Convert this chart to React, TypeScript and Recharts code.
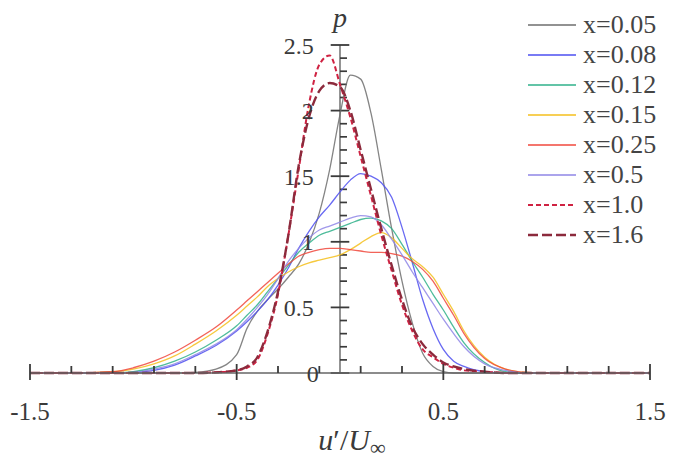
import React from "react";
import { LineChart, Line, XAxis, YAxis, ReferenceLine, Legend } from "recharts";

// u'/U∞ sample grid shared by every profile
const uGrid = [
  -1.5, -1.3, -1.1, -1.0, -0.9, -0.8, -0.7, -0.6,
  -0.5, -0.45, -0.4, -0.35, -0.3, -0.25, -0.2, -0.15, -0.1, -0.05,
  0, 0.05, 0.1, 0.15, 0.2, 0.25, 0.3, 0.35, 0.4, 0.45, 0.5, 0.55, 0.6,
  0.7, 0.8, 0.9, 1.0, 1.2, 1.5,
];

// probability density p, one list per station
const pX005 = [
  0, 0, 0, 0, 0, 0, 0.005, 0.03,
  0.14, 0.34, 0.47, 0.56, 0.64, 0.73, 0.83, 0.99, 1.22, 1.55,
  1.97, 2.27, 2.24, 1.98, 1.55, 1.1, 0.7, 0.38, 0.15, 0.05, 0.01, 0, 0,
  0, 0, 0, 0, 0, 0,
];
const pX008 = [
  0, 0, 0, 0.005, 0.02, 0.06, 0.13, 0.21,
  0.32, 0.39, 0.47, 0.56, 0.67, 0.8, 0.95, 1.08, 1.19, 1.28,
  1.38, 1.47, 1.52, 1.5, 1.45, 1.34, 1.11, 0.84, 0.56, 0.34, 0.18, 0.09, 0.05,
  0.01, 0, 0, 0, 0, 0,
];
const pX012 = [
  0, 0, 0, 0.01, 0.04, 0.09, 0.16, 0.25,
  0.36, 0.44, 0.52, 0.62, 0.72, 0.82, 0.92, 0.99, 1.05, 1.08,
  1.11, 1.14, 1.17, 1.18, 1.16, 1.1, 0.98, 0.85, 0.73, 0.6, 0.48, 0.35, 0.23,
  0.08, 0.01, 0, 0, 0, 0,
];
const pX015 = [
  0, 0, 0.01, 0.03, 0.07, 0.13, 0.22, 0.32,
  0.44, 0.51, 0.58, 0.66, 0.72, 0.77, 0.81, 0.84, 0.86, 0.88,
  0.9, 0.94, 0.99, 1.04, 1.07, 1.03, 0.95, 0.87, 0.81, 0.73, 0.6, 0.47, 0.32,
  0.12, 0.03, 0.005, 0, 0, 0,
];
const pX025 = [
  0, 0, 0.01, 0.04, 0.09, 0.16, 0.25, 0.35,
  0.48, 0.55, 0.62, 0.69, 0.76, 0.83, 0.89, 0.92, 0.94, 0.95,
  0.95, 0.94, 0.93, 0.92, 0.92, 0.91, 0.89, 0.85, 0.79, 0.7, 0.57, 0.44, 0.3,
  0.11, 0.03, 0.005, 0, 0, 0,
];
const pX05 = [
  0, 0, 0, 0.005, 0.03, 0.07, 0.14, 0.22,
  0.33, 0.41, 0.5, 0.6, 0.72, 0.85, 0.95, 1.03, 1.09, 1.12,
  1.15, 1.18, 1.2, 1.19, 1.13, 1.02, 0.9, 0.77, 0.65, 0.53, 0.41, 0.3, 0.2,
  0.07, 0.02, 0, 0, 0, 0,
];
const pX10 = [
  0, 0, 0, 0, 0, 0, 0, 0.005,
  0.02, 0.04, 0.1, 0.3, 0.6, 1.05, 1.55, 2.05, 2.35, 2.42,
  2.2, 1.95, 1.65, 1.35, 1.05, 0.78, 0.52, 0.32, 0.18, 0.12, 0.07, 0.04, 0.02,
  0.01, 0, 0, 0, 0, 0,
];
const pX16 = [
  0, 0, 0, 0, 0, 0, 0, 0.005,
  0.02, 0.05, 0.12, 0.32, 0.62, 1.05, 1.58, 1.95, 2.15, 2.21,
  2.18, 2.0, 1.7, 1.4, 1.1, 0.82, 0.56, 0.35, 0.22, 0.14, 0.08, 0.05, 0.03,
  0.01, 0, 0, 0, 0, 0,
];

const xTicks = [-1.5, -1.3, -1.1, -0.9, -0.7, -0.5, -0.3, -0.1, 0.1, 0.3, 0.5, 0.7, 0.9, 1.1, 1.3, 1.5];
const xLabels = [-1.5, -0.5, 0.5, 1.5];
const yMajor = [0, 0.5, 1, 1.5, 2, 2.5];
const yMinor = [
  0.1, 0.2, 0.3, 0.4, 0.6, 0.7, 0.8, 0.9, 1.1, 1.2, 1.3, 1.4,
  1.6, 1.7, 1.8, 1.9, 2.1, 2.2, 2.3, 2.4,
];

const series = [
  { key: "x005", name: "x=0.05", values: pX005, color: "#6e6e6e", width: 1.3, dash: undefined },
  { key: "x008", name: "x=0.08", values: pX008, color: "#4d4ff0", width: 1.3, dash: undefined },
  { key: "x012", name: "x=0.12", values: pX012, color: "#2fb08a", width: 1.3, dash: undefined },
  { key: "x015", name: "x=0.15", values: pX015, color: "#f5bf1c", width: 1.3, dash: undefined },
  { key: "x025", name: "x=0.25", values: pX025, color: "#f0483c", width: 1.3, dash: undefined },
  { key: "x05", name: "x=0.5", values: pX05, color: "#8f86e6", width: 1.3, dash: undefined },
  { key: "x10", name: "x=1.0", values: pX10, color: "#cf2242", width: 2, dash: "5 3" },
  { key: "x16", name: "x=1.6", values: pX16, color: "#8c2a3c", width: 2.4, dash: "10 4" },
];

const chartData = uGrid.map((u, i) => {
  const row: Record<string, number> = { u };
  series.forEach((s) => {
    row[s.key] = s.values[i];
  });
  return row;
});

const axisColor = "#666666";
const tickColor = "#3a3a3a";
const textColor = "#3a3a3a";
const serif = '"Liberation Serif", "Times New Roman", serif';

const isMajorX = (v: number) => xLabels.some((l) => Math.abs(l - v) < 1e-6);

// tick mark + label for the x axis; y here is the axis line itself (tickSize/tickMargin are 0)
const XTick = (props: any) => {
  const { x, y, payload } = props;
  const v = payload.value;
  const major = isMajorX(v);
  return (
    <g>
      <path
        d={major ? `M${x},${y - 9}L${x},${y + 7}` : `M${x},${y - 7}L${x},${y}`}
        stroke={tickColor}
        strokeWidth={1.8}
        fill="none"
      />
      {major && (
        <text x={x} y={y + 47} textAnchor="middle" fontSize={25} fontFamily={serif} fill={textColor} stroke="none">
          {v}
        </text>
      )}
    </g>
  );
};

const AxisTitle = (props: any) => {
  const { viewBox } = props;
  const cx = viewBox.x + viewBox.width / 2 + 12;
  return (
    <text x={cx} y={viewBox.y + 77} textAnchor="middle" fontSize={30} fontFamily={serif} fill={textColor}>
      <tspan fontStyle="italic">u</tspan>
      <tspan>′/</tspan>
      <tspan fontStyle="italic">U</tspan>
      <tspan fontSize={22} dy={5}>∞</tspan>
    </text>
  );
};

const LegendBox = () => (
  <div style={{ display: "flex", flexDirection: "column" }}>
    {series.map((s) => (
      <div key={s.key} style={{ height: 30, display: "flex", alignItems: "center" }}>
        <svg width={50} height={10} style={{ display: "block" }}>
          <line x1={1} x2={49} y1={5} y2={5} stroke={s.color} strokeWidth={s.width} strokeDasharray={s.dash} />
        </svg>
        <span style={{ marginLeft: 6, fontSize: 26, fontFamily: serif, color: "#444", lineHeight: "30px" }}>
          {s.name}
        </span>
      </div>
    ))}
  </div>
);

export default function App() {
  return (
    <div style={{ position: "absolute", left: 0, top: 0, width: 685, height: 467, background: "#fff" }}>
      <LineChart width={685} height={467} data={chartData} margin={{ top: 45, right: 35, left: 30, bottom: 34 }}>
        <XAxis
          dataKey="u"
          type="number"
          domain={[-1.5, 1.5]}
          ticks={xTicks}
          interval={0}
          tick={<XTick />}
          tickLine={false}
          tickSize={0}
          tickMargin={0}
          axisLine={{ stroke: axisColor, strokeWidth: 1.4 }}
          height={60}
          label={<AxisTitle />}
        />
        <YAxis hide type="number" domain={[0, 2.5]} />
        <ReferenceLine
          x={0}
          stroke={axisColor}
          strokeWidth={1.4}
          label={{ value: "p", position: "top", offset: 18, fontSize: 28, fontStyle: "italic", fontFamily: serif, fill: textColor }}
        />
        {yMinor.map((v) => (
          <ReferenceLine
            key={`m${v}`}
            segment={[{ x: 0, y: v }, { x: 0.034, y: v }]}
            stroke={tickColor}
            strokeWidth={1.7}
          />
        ))}
        {yMajor.map((v) => (
          <ReferenceLine
            key={`M${v}`}
            segment={[{ x: -0.045, y: v }, { x: 0.045, y: v }]}
            stroke={tickColor}
            strokeWidth={1.8}
            label={{ value: String(v), position: "left", offset: v === 0 ? 12 : 17, fontSize: 24, fontFamily: serif, fill: textColor }}
          />
        ))}
        {series.map((s) => (
          <Line
            key={s.key}
            dataKey={s.key}
            name={s.name}
            type="monotone"
            stroke={s.color}
            strokeWidth={s.width}
            strokeOpacity={s.dash ? 1 : 0.85}
            strokeDasharray={s.dash}
            dot={false}
            activeDot={false}
            isAnimationActive={false}
          />
        ))}
        <Legend
          layout="vertical"
          align="center"
          verticalAlign="middle"
          content={<LegendBox />}
          wrapperStyle={{ top: 10, left: 527, width: 158 }}
        />
      </LineChart>
    </div>
  );
}
